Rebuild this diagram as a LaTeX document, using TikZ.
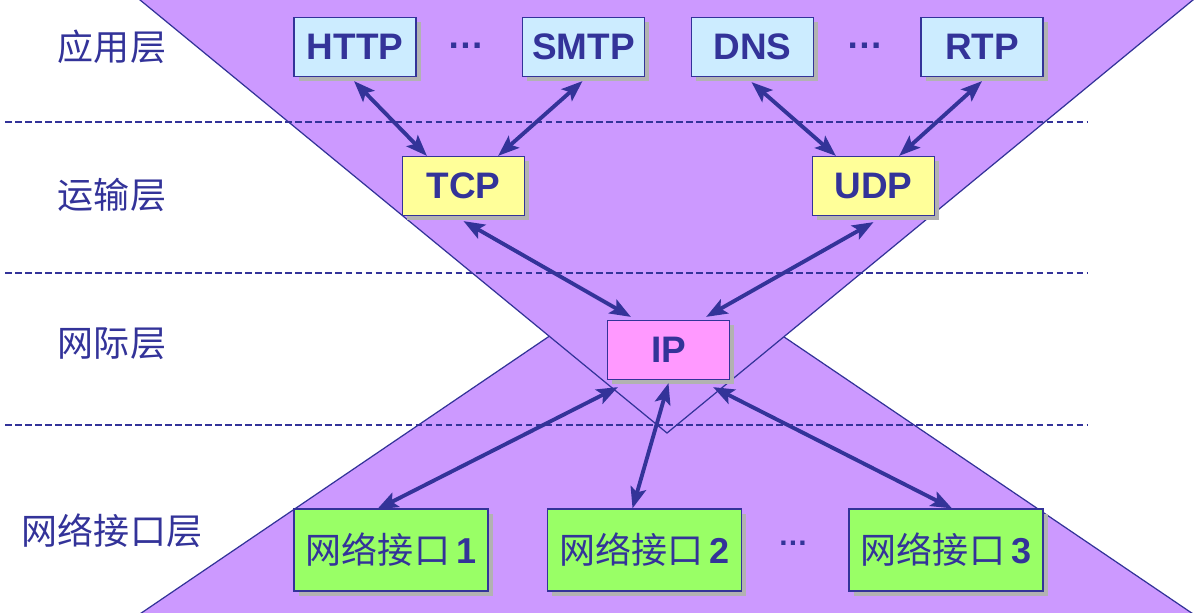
\documentclass[tikz,border=0pt]{standalone}
\usepackage{fontspec}
\setmainfont{Liberation Sans}
\newfontfamily\cjk{Noto Sans CJK SC}
\usetikzlibrary{positioning, arrows.meta, shadows, calc}
\definecolor{inkblue}{RGB}{51,51,153}
\definecolor{lilac}{RGB}{204,153,255}
\definecolor{skyfill}{RGB}{204,236,255}
\definecolor{lemonfill}{RGB}{255,255,153}
\definecolor{pinkfill}{RGB}{255,153,255}
\definecolor{limefill}{RGB}{153,255,102}
\definecolor{shadowgray}{RGB}{178,178,178}

\begin{document}
\begin{tikzpicture}[x=0.02cm, y=-0.02cm,
  every node/.style={text=inkblue, font=\fontsize{21}{24}\selectfont\bfseries},
  proto/.style={draw=inkblue, line width=0.7pt, minimum width=2.44cm, minimum height=1.18cm, inner sep=0pt,
    general shadow={fill=shadowgray, shadow xshift=2.8pt, shadow yshift=-2.8pt}},
  iface/.style={proto, fill=limefill, minimum width=3.88cm, minimum height=1.64cm, font=\fontsize{20.5}{24}\selectfont\bfseries},
  layer/.style={font=\cjk\fontsize{20.5}{24}\selectfont},
  link/.style={draw=inkblue, line width=2.2pt, {Stealth[length=12pt,width=9pt,inset=2.5pt]}-{Stealth[length=12pt,width=9pt,inset=2.5pt]}},
  sep/.style={draw=inkblue, line width=0.6pt, dash pattern=on 3.8pt off 1.9pt}]
 \useasboundingbox (0,0) rectangle (1203,612);
 % the two crossed wedges
 \filldraw[fill=lilac, draw=inkblue, line width=0.7pt] (131,620) -- (666,257) -- (1202,620);
 \filldraw[fill=lilac, draw=inkblue, line width=0.7pt] (134,-5) -- (667,433) -- (1199,-5);
 % layer borders
 \draw[sep] (5,122) -- (1087,122);
 \draw[sep] (5,273) -- (1087,273);
 \draw[sep] (5,425) -- (1087,425);
 % layer names
 \node[layer] (app) at (112,47) {应用层};
 \node[layer] (trans) at (112,195) {运输层};
 \node[layer] (inet) at (112,344) {网际层};
 \node[layer] (link) at (112,531) {网络接口层};
 % protocols
 \node[proto, fill=skyfill] (http) at (355,47) {HTTP};
 \node[proto, fill=skyfill] (smtp) at (583.5,47) {SMTP};
 \node[proto, fill=skyfill] (dns) at (752.5,47) {DNS};
 \node[proto, fill=skyfill] (rtp) at (982,47) {RTP};
 \node[anchor=base] (dotsa) at (466,48) {…};
 \node[anchor=base] (dotsb) at (865,48) {…};
 \node[proto, fill=lemonfill] (tcp) at (463.5,186) {TCP};
 \node[proto, fill=lemonfill] (udp) at (873.5,186) {UDP};
 \node[proto, fill=pinkfill] (ip) at (668.5,350) {IP};
 \node[iface] (net1) at (391,550) {{\cjk\mdseries 网络接口}\,1};
 \node[iface] (net2) at (644.5,550) {{\cjk\mdseries 网络接口}\,2};
 \node[iface] (net3) at (946,550) {{\cjk\mdseries 网络接口}\,3};
 \node[anchor=base, font=\fontsize{17}{20}\selectfont\bfseries] (dotsc) at (793,545) {…};
 % links between layers
 \draw[link] ($(http.south)+(-1,4)$) -- ($(tcp.north west)+(25,0)$);
 \draw[link] ($(smtp.south)+(-1,4)$) -- ($(tcp.north east)+(-27,0)$);
 \draw[link] ($(dns.south)+(-1,5)$) -- ($(udp.north west)+(24,0)$);
 \draw[link] ($(rtp.south)+(0,4)$) -- ($(udp.north east)+(-36,0)$);
 \draw[link] ($(tcp.south)+(0,5)$) -- ($(ip.north west)+(24,-3)$);
 \draw[link] ($(udp.south)+(0,6)$) -- ($(ip.north east)+(-24,-3)$);
 \draw[link] ($(ip.south west)+(11,7)$) -- ($(net1.north)+(-14,1)$);
 \draw[link] ($(ip.south)+(0,3)$) -- ($(net2.north)+(-12,0)$);
 \draw[link] ($(ip.south east)+(-17,7)$) -- ($(net3.north)+(6,0)$);
\end{tikzpicture}
\end{document}
